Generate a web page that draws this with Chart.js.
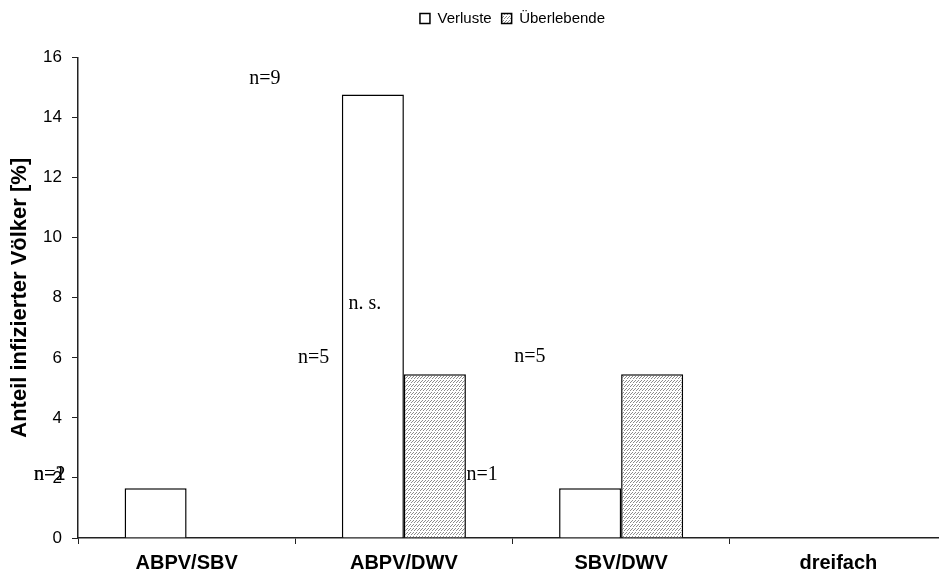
<!DOCTYPE html>
<html>
<head>
<meta charset="utf-8">
<script src="https://cdn.jsdelivr.net/npm/chart.js@4/dist/chart.umd.min.js"></script>
<style>
  html, body { margin: 0; padding: 0; background: #fff; overflow: hidden; }
  #wrap { width: 960px; height: 578px; }
</style>
</head>
<body>
<div id="wrap"><canvas id="chart" width="960" height="578"></canvas></div>
<script>
// Virus combinations and share of infected colonies (%)
const categories = ['ABPV/SBV', 'ABPV/DWV', 'SBV/DWV', 'dreifach'];
const verluste = [1.66, 14.77, 1.66, 0];
const ueberlebende = [0, 5.45, 5.45, 0];
const yTickValues = [0, 2, 4, 6, 8, 10, 12, 14, 16];

// Sample-size notes, anchored in axis units (category index, percent)
const notes = [
  { text: 'n=9',   cat: 0.36,  val: 15.3 },
  { text: 'n=5',   cat: 0.585, val: 6.0 },
  { text: 'n. s.', cat: 0.82,  val: 7.8 },
  { text: 'n=5',   cat: 1.58,  val: 6.05 },
  { text: 'n=1',   cat: 1.36,  val: 2.12 },
  { text: 'n=2',   cat: -0.63, val: 2.09 },
  { text: 'n=1',   cat: -0.63, val: 2.09 }
];

const FONT_SANS = '"Liberation Sans", Arial, Helvetica, sans-serif';
const FONT_SERIF = '"Liberation Serif", "Times New Roman", serif';
const AXIS_COLOR = '#222';
const LEGEND_TOP = 1;

// small grey diagonal hatch for the survivor bars
function makeHatch() {
  const c = document.createElement('canvas');
  c.width = 3; c.height = 4;
  const g = c.getContext('2d');
  g.fillStyle = '#fff';
  g.fillRect(0, 0, 3, 4);
  g.fillStyle = '#8c8c8c';
  g.fillRect(2, 0, 1, 1);
  g.fillRect(1, 1, 1, 1);
  g.fillRect(0, 2, 1, 1);
  return g.createPattern(c, 'repeat');
}

const notesPlugin = {
  id: 'sampleNotes',
  afterLayout(chart) {
    // keep the legend at the top edge, centred over the plot area
    const lg = chart.legend;
    const a = chart.chartArea;
    if (!lg) return;
    const dx = (a.left + a.right) / 2 - (lg.left + lg.right) / 2;
    lg.left += dx; lg.right += dx;
    const h = lg.bottom - lg.top;
    lg.top = LEGEND_TOP; lg.bottom = LEGEND_TOP + h;
  },
  afterDatasetsDraw(chart) {
    const { ctx, scales: { x, y } } = chart;
    ctx.save();
    ctx.font = '20px ' + FONT_SERIF;
    ctx.fillStyle = '#000';
    ctx.textAlign = 'center';
    ctx.textBaseline = 'middle';
    notes.forEach(n => {
      const px = x.getPixelForValue(0) + n.cat * (x.getPixelForValue(1) - x.getPixelForValue(0));
      ctx.fillText(n.text, px, y.getPixelForValue(n.val));
    });
    ctx.restore();
  }
};

new Chart(document.getElementById('chart'), {
  type: 'bar',
  data: {
    labels: categories,
    datasets: [
      {
        label: 'Verluste',
        data: verluste,
        backgroundColor: '#fff',
        borderColor: '#000',
        borderWidth: 1.5,
        borderSkipped: 'bottom'
      },
      {
        label: 'Überlebende',
        data: ueberlebende,
        backgroundColor: makeHatch(),
        borderColor: '#000',
        borderWidth: 1.5,
        borderSkipped: 'bottom'
      }
    ]
  },
  options: {
    responsive: false,
    animation: false,
    devicePixelRatio: 1,
    layout: { padding: { top: 22.5, right: 13, left: 0, bottom: 0 } },
    datasets: { bar: { categoryPercentage: 0.571, barPercentage: 1.0 } },
    plugins: {
      legend: {
        position: 'top',
        labels: {
          boxWidth: 10,
          boxHeight: 10,
          padding: 10,
          color: '#000',
          font: { family: FONT_SANS, size: 15 }
        }
      },
      tooltip: { enabled: false }
    },
    scales: {
      x: {
        grid: { display: true, drawOnChartArea: false, drawTicks: true, tickLength: 6, color: AXIS_COLOR, offset: true },
        border: { display: true, color: AXIS_COLOR, width: 1.5 },
        ticks: { color: '#000', font: { family: FONT_SANS, size: 20, weight: 'bold' }, padding: 7, maxRotation: 0 },
        afterFit(scale) { scale.height = 40; }
      },
      y: {
        min: 0,
        max: 16,
        afterBuildTicks(scale) { scale.ticks = yTickValues.map(v => ({ value: v })); },
        grid: { display: true, drawOnChartArea: false, drawTicks: true, tickLength: 6, color: AXIS_COLOR },
        border: { display: true, color: AXIS_COLOR, width: 1.5 },
        ticks: { color: '#000', font: { family: FONT_SANS, size: 17 }, padding: 10 },
        title: {
          display: true,
          text: 'Anteil infizierter Völker [%]',
          color: '#000',
          font: { family: FONT_SANS, size: 22, weight: 'bold' },
          padding: { top: 7, bottom: 0 }
        },
        afterFit(scale) { scale.width = 78; }
      }
    }
  },
  plugins: [notesPlugin]
});
</script>
</body>
</html>
